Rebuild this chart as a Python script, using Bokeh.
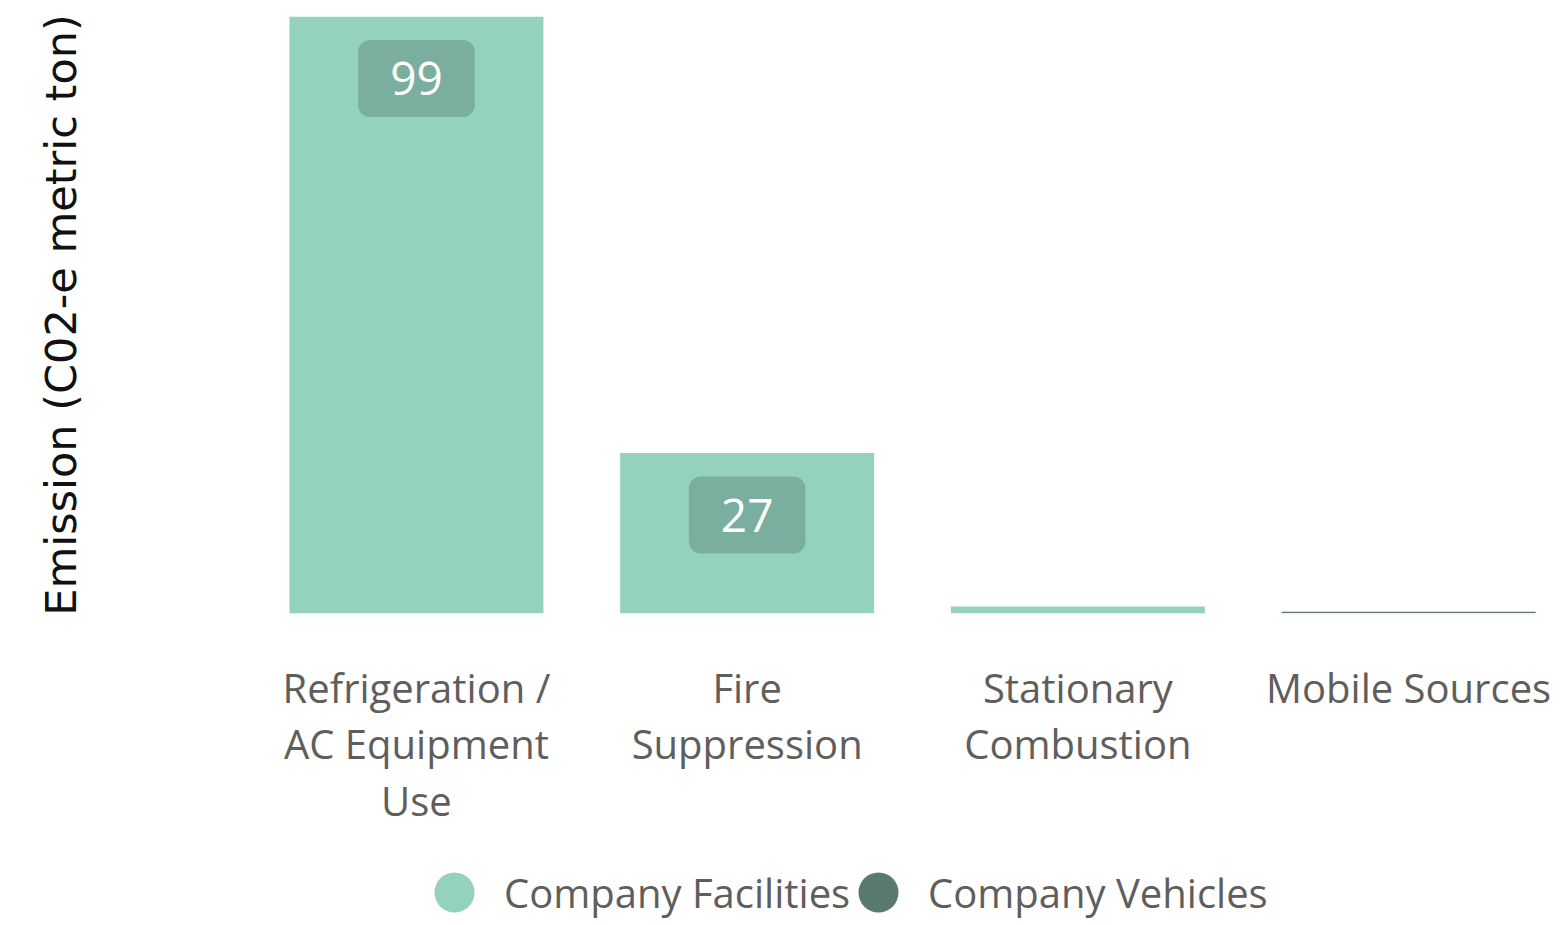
from bokeh.plotting import figure
from bokeh.layouts import column
from bokeh.models import ColumnDataSource, Range1d, Legend, LegendItem, FixedTicker
from bokeh.core.properties import value
from bokeh.embed import file_html
from bokeh.resources import INLINE

categories = ["Refrigeration / AC Equipment Use", "Fire Suppression", "Stationary Combustion", "Mobile Sources"]
tick_labels = ["Refrigeration /\nAC Equipment\nUse", "Fire\nSuppression", "Stationary\nCombustion", "Mobile Sources"]
facilities = [99, 26.6, 1.15, 0.08]
vehicles = [0, 0, 0, 0.2]
series_names = ["Company Facilities", "Company Vehicles"]
colors = ["#94d2bd", "#5a7a70"]

xs = list(range(len(categories)))
src = ColumnDataSource(dict(x=xs, fac=facilities, veh=vehicles))

p = figure(output_backend="svg", toolbar_location=None,
           x_range=Range1d(-0.532, 3.42), y_range=Range1d(0, 99),
           frame_width=1307, frame_height=597,
           min_border_left=240, min_border_right=8, min_border_top=16, min_border_bottom=246)
p.outline_line_color = None
p.grid.visible = False
p.background_fill_color = "white"
p.border_fill_color = "white"

rs = p.vbar_stack(["fac", "veh"], x="x", width=0.768, source=src, color=colors, line_color=None)

# data labels
lab_x = [x for x, v in zip(xs, facilities) if v > 5]
lab_y = [v for v in facilities if v > 5]
lab_t = [str(round(v)) for v in facilities if v > 5]
lsrc = ColumnDataSource(dict(x=lab_x, y=lab_y, t=lab_t))
p.text(x="x", y="y", text="t", source=lsrc, text_align="center", text_baseline="middle",
       y_offset=62, text_color="white", text_font=value("Open Sans"), text_font_size="46px",
       background_fill_color="#7aae9e", border_radius=12,
       padding=dict(left=32, right=32, top=22, bottom=22))

# x axis
p.xaxis.ticker = FixedTicker(ticks=xs)
p.xaxis.major_label_overrides = {i: t for i, t in enumerate(tick_labels)}
p.xaxis.major_label_text_font = "Open Sans"
p.xaxis.major_label_text_font_size = "40px"
p.xaxis.major_label_text_line_height = 1.03
p.xaxis.major_label_text_color = "#605e5c"
p.xaxis.major_label_standoff = 40
p.xaxis.axis_line_color = None
p.xaxis.major_tick_line_color = None
p.xaxis.minor_tick_line_color = None

# y axis
p.yaxis.ticker = FixedTicker(ticks=[])
p.yaxis.axis_label = "Emission (C02-e metric ton)"
p.yaxis.axis_label_text_font = "DejaVu Sans"
p.yaxis.axis_label_text_font_style = "normal"
p.yaxis.axis_label_text_font_size = "43px"
p.yaxis.axis_label_text_color = "#111111"
p.yaxis.major_tick_line_color = None
p.yaxis.minor_tick_line_color = None
p.yaxis.axis_line_color = None
p.yaxis.axis_label_standoff = 155

# legend strip below the chart (one legend per series, circle markers)
pl = figure(output_backend="svg", toolbar_location=None, width=1555, height=66,
            x_axis_type=None, y_axis_type=None, min_border=0,
            x_range=Range1d(0, 1), y_range=Range1d(0, 1))
pl.outline_line_color = None
pl.grid.visible = False
nan = float("nan")
legend_x = [164, 588]
for name, c, lx in zip(series_names, colors, legend_x):
    proxy = pl.scatter(x=[nan], y=[nan], marker="circle", color=c, line_color=None)
    lg = Legend(items=[LegendItem(label=name, renderers=[proxy])], location=(lx, -17))
    lg.label_text_font = "Open Sans"
    lg.label_text_font_size = "40px"
    lg.label_text_color = "#605e5c"
    lg.glyph_width = 100
    lg.glyph_height = 100
    lg.border_line_color = None
    lg.background_fill_alpha = 0
    lg.label_standoff = 0
    lg.margin = 0
    lg.padding = 0
    pl.add_layout(lg, "center")

layout = column(p, pl, spacing=0)
open("out.html", "w").write(file_html(layout, INLINE))
